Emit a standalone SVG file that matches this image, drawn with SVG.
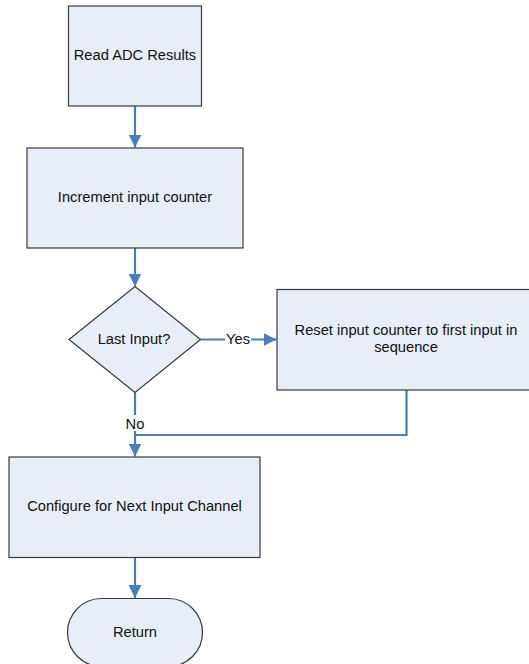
<svg xmlns="http://www.w3.org/2000/svg" width="529" height="664" viewBox="0 0 529 664">
  <style>
    .shape { fill: #e8eef8; stroke: #3a3a3a; stroke-width: 1.2; }
    .lbl { font-family: "Liberation Sans", Arial, sans-serif; font-size: 14.7px; fill: #111; text-anchor: middle; }
    .flow { fill: none; stroke: #4a7ebb; stroke-width: 2.2; }
    .tag { fill: #ffffff; }
  </style>
  <defs>
    <marker id="arrow" markerUnits="userSpaceOnUse" markerWidth="14" markerHeight="13" refX="13" refY="6.5" orient="auto">
      <path d="M0,0 L13,6.5 L0,13 Z" fill="#4a7ebb"/>
    </marker>
  </defs>
  <rect width="529" height="664" fill="#ffffff"/>

  <g id="connectors">
    <line class="flow" x1="135" y1="106" x2="135" y2="147.5" marker-end="url(#arrow)"/>
    <line class="flow" x1="135" y1="248" x2="135" y2="286.5" marker-end="url(#arrow)"/>
    <line class="flow" x1="200.5" y1="339.5" x2="276.5" y2="339.5" marker-end="url(#arrow)"/>
    <line class="flow" x1="135" y1="392.5" x2="135" y2="456.5" marker-end="url(#arrow)"/>
    <polyline class="flow" points="406.5,390 406.5,435 135,435"/>
    <line class="flow" x1="135" y1="557.5" x2="135" y2="598" marker-end="url(#arrow)"/>
    <rect class="tag" x="225" y="332" width="26" height="15"/>
    <text class="lbl" x="238" y="344">Yes</text>
    <rect class="tag" x="125" y="415" width="20" height="16"/>
    <text class="lbl" x="135" y="429">No</text>
  </g>

  <g id="read-adc">
    <rect class="shape" x="68.5" y="6" width="133" height="100"/>
    <text class="lbl" x="135" y="60">Read ADC Results</text>
  </g>

  <g id="increment-counter">
    <rect class="shape" x="27" y="148" width="216" height="100"/>
    <text class="lbl" x="135" y="202">Increment input counter</text>
  </g>

  <g id="last-input">
    <polygon class="shape" points="135,286.5 200.5,339.5 135,392.5 69,339.5"/>
    <text class="lbl" x="134" y="344">Last Input?</text>
  </g>

  <g id="reset-counter">
    <rect class="shape" x="277" y="289.5" width="258" height="100.5"/>
    <text class="lbl" x="406" y="335">Reset input counter to first input in</text>
    <text class="lbl" x="406" y="352">sequence</text>
  </g>

  <g id="configure-next">
    <rect class="shape" x="9" y="457" width="251" height="100.5"/>
    <text class="lbl" x="134.5" y="511">Configure for Next Input Channel</text>
  </g>

  <g id="return">
    <rect class="shape" x="67.5" y="598.5" width="135" height="68" rx="34" ry="34"/>
    <text class="lbl" x="135" y="637">Return</text>
  </g>
</svg>
